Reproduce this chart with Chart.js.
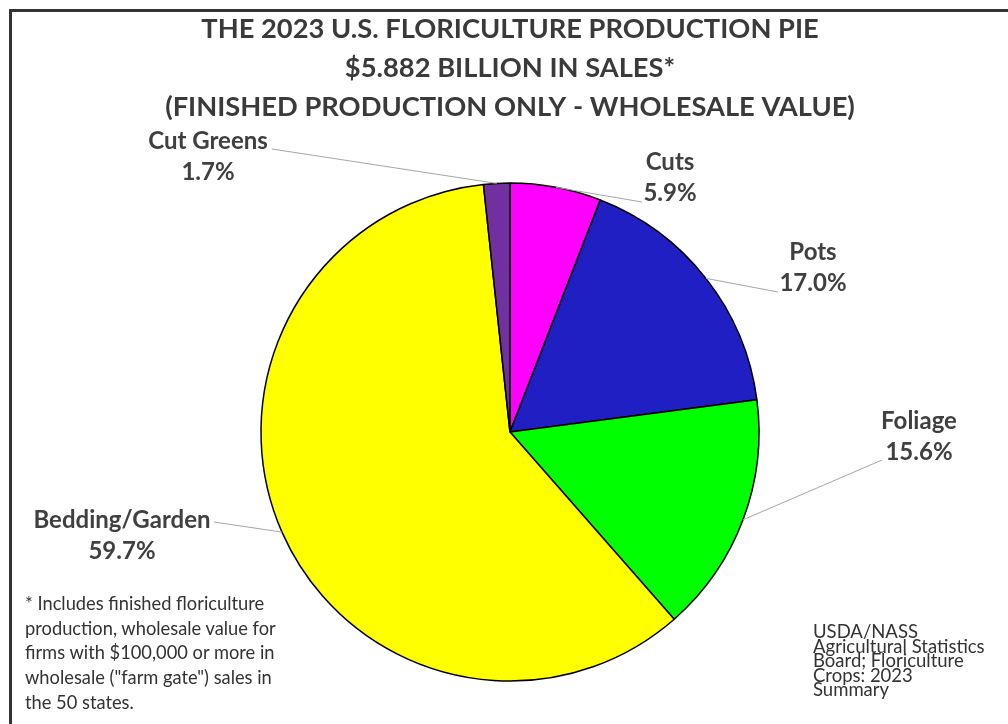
<!DOCTYPE html>
<html>
<head>
<meta charset="utf-8">
<script src="https://cdn.jsdelivr.net/npm/chart.js@4/dist/chart.umd.min.js"></script>
<style>
    html, body { margin: 0; padding: 0; background: #fff; }
    #wrap { position: relative; width: 1008px; height: 724px; overflow: hidden; }
    #frame { position: absolute; left: 9px; top: 9px; width: 1010px; height: 730px; border-top: 3px solid #333; border-left: 3px solid #333; pointer-events: none; }
    .note { position: absolute; font-family: Lato, "Open Sans", sans-serif; color: #333; white-space: nowrap; }
    #footnote { left: 25px; top: 591px; font-size: 18.3px; line-height: 24.7px; }
    #source { left: 813px; top: 624px; font-size: 18.5px; line-height: 14.5px; }
</style>
</head>
<body>
<div id="wrap">
    <canvas id="pie" width="1008" height="724"></canvas>
    <div id="frame"></div>
    <div class="note" id="footnote">* Includes finished floriculture<br>production, wholesale value for<br>firms with $100,000 or more in<br>wholesale ("farm gate") sales in<br>the 50 states.</div>
    <div class="note" id="source">USDA/NASS<br>Agricultural Statistics<br>Board; Floriculture<br>Crops: 2023<br>Summary</div>
</div>
<script>
let categories = ["Cuts", "Pots", "Foliage", "Bedding/Garden", "Cut Greens"]
let shares = [5.9, 17.0, 15.6, 59.7, 1.7]
let slice_colors = ["#ff00ff", "#1f1fc4", "#00ff00", "#ffff00", "#7030a0"]
let title_lines = [
    "THE 2023 U.S. FLORICULTURE PRODUCTION PIE",
    "$5.882 BILLION IN SALES*",
    "(FINISHED PRODUCTION ONLY - WHOLESALE VALUE)"
]

// where each label sits, and where its leader line meets the text
let label_layout = [
    {x: 670, y: 162, lx: 642, ly: 202},  // Cuts
    {x: 813, y: 252, lx: 778, ly: 292},  // Pots
    {x: 919, y: 421, lx: 882, ly: 460},  // Foliage
    {x: 122, y: 520, lx: 214, ly: 522},  // Bedding/Garden
    {x: 208, y: 141, lx: 272, ly: 149}   // Cut Greens
]

const pie_labels = {
    id: "pie_labels",
    afterDatasetsDraw(chart) {
        const ctx = chart.ctx
        const arcs = chart.getDatasetMeta(0).data
        ctx.save()
        arcs.forEach((arc, i) => {
            let mid = (arc.startAngle + arc.endAngle) / 2
            let sx = arc.x + Math.cos(mid) * arc.outerRadius
            let sy = arc.y + Math.sin(mid) * arc.outerRadius
            let pos = label_layout[i]

            ctx.strokeStyle = "#a6a6a6"
            ctx.lineWidth = 1
            ctx.beginPath()
            ctx.moveTo(sx, sy)
            ctx.lineTo(pos.lx, pos.ly)
            ctx.stroke()

            ctx.fillStyle = "#404040"
            ctx.font = "bold 24px Lato, 'Open Sans', sans-serif"
            ctx.textAlign = "center"
            ctx.textBaseline = "middle"
            ctx.fillText(categories[i], pos.x, pos.y)
            ctx.fillText(shares[i].toFixed(1) + "%", pos.x, pos.y + 31)
        })
        ctx.restore()
    }
}

new Chart("pie", {
    type: "pie",
    data: {
        labels: categories,
        datasets: [{
            data: shares,
            backgroundColor: slice_colors,
            borderColor: "#000000",
            borderWidth: 1.5,
            radius: 249
        }]
    },
    options: {
        responsive: false,
        animation: false,
        layout: { padding: { left: 12, right: 0, top: 0, bottom: 0 } },
        plugins: {
            legend: { display: false },
            tooltip: { enabled: false },
            title: {
                display: true,
                text: title_lines,
                color: "#3a3a3a",
                font: { family: "Lato, 'Open Sans', sans-serif", size: 27.3, weight: "bold", lineHeight: 1.43 },
                padding: { top: 10, bottom: 13 }
            }
        }
    },
    plugins: [pie_labels]
})
</script>
</body>
</html>
